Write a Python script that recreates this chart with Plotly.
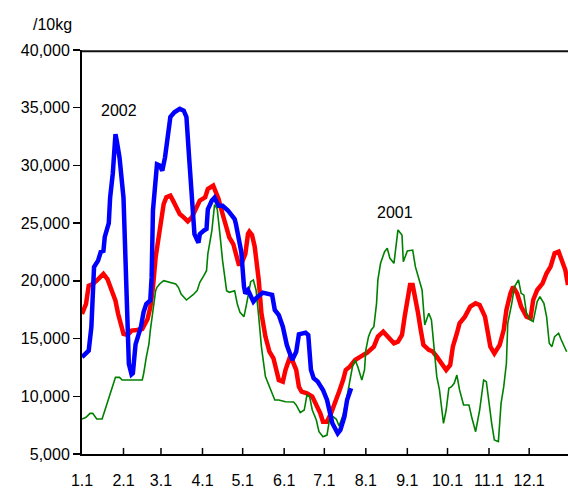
import plotly.graph_objects as go

# x = day of year (0 = Jan 1)
month_ticks = [0, 31, 59, 90, 120, 151, 181, 212, 243, 273, 304, 334]
month_labels = ["1.1", "2.1", "3.1", "4.1", "5.1", "6.1", "7.1", "8.1", "9.1", "10.1", "11.1", "12.1"]
y_ticks = [5000, 10000, 15000, 20000, 25000, 30000, 35000, 40000]

days_2002 = [0, 5, 7, 9, 12, 14, 16, 17, 20, 21, 23, 25, 26, 28, 31, 33, 35, 37, 38, 40, 42, 44, 46, 48,
             51, 52, 53, 56, 58, 60, 62, 64, 66, 69, 73, 76, 78, 80, 82, 84, 87, 88, 91, 93, 94, 97, 99,
             102, 105, 109, 112, 114, 115, 117, 119, 121, 122, 124, 128, 130, 133, 135, 142, 144, 147,
             150, 153, 157, 160, 162, 167, 169, 171, 173, 176, 180, 183, 185, 187, 191, 193, 196, 198, 201]
vals_2002 = [13400, 13950, 16000, 21200, 21750, 22500, 22600, 23800, 25000, 27200, 29300, 32700, 32100,
             30700, 27200, 20600, 12800, 11900, 12000, 14500, 15400, 16000, 17300, 18000, 18300, 20300,
             26100, 30100, 30000, 29550, 30700, 32150, 34200, 34600, 34900, 34750, 34200, 30700, 27500,
             24050, 23300, 24050, 24350, 24500, 26200, 26950, 27200, 26500, 26500, 26100, 25650, 25350,
             24900, 23800, 22500, 19500, 18900, 19200, 18200, 18490, 18860, 18980, 18780, 17480, 17040,
             16030, 14440, 13140, 13860, 15370, 15510, 15300, 12300, 11560, 11270, 10550, 9680, 8810,
             7660, 6790, 7080, 8230, 9680, 10690]

days_avg = [0, 3, 5, 8, 11, 14, 16, 19, 21, 23, 25, 27, 29, 31, 34, 37, 41, 45, 47, 49, 51, 53, 55, 57,
            59, 61, 63, 66, 68, 71, 73, 76, 79, 82, 86, 88, 92, 94, 98, 99, 102, 105, 108, 110, 113, 115,
            117, 119, 122, 124, 125, 127, 129, 132, 134, 137, 140, 143, 145, 147, 150, 152, 155, 157, 160,
            162, 164, 168, 172, 175, 178, 180, 183, 186, 189, 192, 195, 197, 200, 204, 208, 213, 218, 221,
            225, 229, 233, 236, 239, 241, 243, 245, 247, 249, 251, 253, 255, 259, 262, 265, 269, 272, 275,
            277, 280, 282, 286, 290, 294, 297, 301, 303, 305, 308, 312, 315, 317, 320, 322, 325, 328, 332,
            335, 337, 340, 344, 347, 350, 353, 356, 358, 361, 363]
vals_avg = [17130, 18000, 19580, 19730, 20020, 20450, 20600, 20160, 19440, 19000, 18280, 17130, 16260,
            15400, 15310, 15690, 15740, 15830, 16260, 16700, 17710, 19440, 22040, 23770, 24930, 26660,
            27240, 27380, 26950, 26230, 25790, 25500, 25160, 25500, 26520, 26950, 27240, 27960, 28250,
            27960, 27090, 25790, 24490, 23770, 23190, 22180, 21460, 21460, 22330, 24070, 24260, 23970,
            22960, 20080, 17200, 15170, 13860, 13290, 12280, 11410, 11270, 12280, 13290, 13140, 12280,
            10830, 10400, 10260, 9970, 9250, 8530, 7800, 7800, 8530, 9390, 10400, 11410, 12280, 12560,
            13140, 13430, 13780, 14300, 15170, 15600, 15020, 14590, 14730, 15310, 16900, 18630, 19640,
            19640, 18630, 17200, 15750, 14450, 14020, 13880, 13430, 12860, 12280, 12710, 14300, 15460,
            16320, 16900, 17760, 18050, 17910, 16900, 15460, 14300, 13720, 14450, 15750, 17480, 18920,
            19490, 18920, 17760, 16900, 16750, 18340, 19210, 19790, 20660, 21230, 22390, 22530, 21950,
            20940, 19640]

days_2001 = [0, 3, 6, 8, 11, 15, 17, 20, 22, 25, 28, 30, 45, 46, 48, 50, 51, 53, 55, 56, 58, 61, 65, 70,
             72, 74, 78, 81, 83, 86, 88, 91, 93, 94, 97, 99, 101, 103, 105, 108, 110, 114, 116, 118, 121,
             123, 126, 128, 130, 132, 134, 137, 139, 142, 144, 147, 152, 158, 160, 163, 166, 168, 170, 172,
             175, 177, 180, 183, 185, 187, 190, 192, 195, 197, 200, 202, 204, 206, 209, 211, 212, 214, 216,
             218, 220, 221, 223, 226, 228, 230, 233, 235, 236, 239, 240, 243, 247, 249, 251, 254, 256, 259,
             261, 263, 265, 267, 270, 272, 274, 276, 278, 280, 282, 285, 289, 291, 294, 297, 300, 302, 304,
             306, 308, 311, 313, 315, 317, 318, 321, 323, 326, 328, 330, 332, 335, 337, 340, 342, 345, 347,
             349, 351, 353, 356, 358, 362]
vals_2001 = [8030, 8180, 8520, 8520, 8030, 8030, 8750, 9770, 10630, 11640, 11640, 11410, 11410, 11930,
             13380, 14530, 15690, 17420, 19150, 19440, 19730, 20020, 19870, 19730, 19440, 18860, 18340,
             18570, 18800, 19150, 19870, 20450, 20880, 22330, 24350, 26600, 26230, 24070, 21750, 19150,
             19010, 19150, 18000, 17270, 16900, 18050, 19930, 20080, 19210, 16900, 14300, 11700, 11120,
             10400, 9680, 9680, 9530, 9500, 9250, 8580, 8810, 10110, 9970, 8810, 7950, 6930, 6500, 6640,
             8090, 8290, 8010, 7430, 8380, 9390, 11120, 12560, 13140, 12560, 11410, 12280, 14010, 15170,
             15750, 16030, 18050, 20080, 21520, 22530, 22820, 21950, 21520, 23540, 24410, 23970, 21660,
             22600, 22670, 21230, 20360, 19210, 16180, 17200, 16610, 14010, 11700, 10550, 7660, 8810,
             10690, 10830, 11120, 11840, 10550, 9250, 9250, 8230, 6930, 8810, 11410, 11270, 9390, 7660,
             6210, 6070, 9390, 10830, 12860, 16320, 18050, 19490, 20080, 18920, 18780, 17200, 16610,
             16470, 18200, 18630, 18050, 16900, 14590, 14300, 15170, 15460, 14880, 13860]

FONT = "Liberation Sans, Arial, sans-serif"

fig = go.Figure()
fig.add_trace(go.Scatter(x=days_avg, y=vals_avg, mode="lines", name="avg",
                         line=dict(color="#ff0000", width=4.5), hoverinfo="skip"))
fig.add_trace(go.Scatter(x=days_2001, y=vals_2001, mode="lines", name="2001",
                         line=dict(color="#008000", width=1.6), hoverinfo="skip"))
fig.add_trace(go.Scatter(x=days_2002, y=vals_2002, mode="lines", name="2002",
                         line=dict(color="#0000ff", width=4.5), hoverinfo="skip"))

# inside tick marks on the x axis (labels pushed down by invisible outside ticks)
shapes = [dict(type="line", xref="x", yref="paper", x0=t, x1=t, y0=0, y1=0.015,
               line=dict(color="black", width=1.5), layer="above") for t in month_ticks[1:]]
# top border of the plot area
shapes.append(dict(type="line", xref="paper", yref="paper", x0=0, x1=1, y0=0.997, y1=0.997,
                   line=dict(color="#111111", width=2), layer="above"))

fig.update_layout(
    width=568, height=495,
    margin=dict(l=82, r=0, t=50, b=41),
    paper_bgcolor="white", plot_bgcolor="white",
    showlegend=False,
    font=dict(family=FONT, size=16, color="black"),
    xaxis=dict(range=[0, 363], tickvals=month_ticks, ticktext=month_labels,
               showgrid=False, zeroline=False, showline=True, linecolor="black", linewidth=2,
               ticks="outside", ticklen=11, tickwidth=1, tickcolor="rgba(0,0,0,0)",
               tickfont=dict(family=FONT, size=16)),
    yaxis=dict(range=[5000, 40000], tickvals=y_ticks, tickformat=",d", ticksuffix="\u00a0",
               showgrid=False, zeroline=False, showline=True, linecolor="black", linewidth=2,
               ticks="outside", ticklen=7, tickwidth=1.5, tickcolor="black",
               tickfont=dict(family=FONT, size=16)),
    shapes=shapes,
    annotations=[
        dict(text="/10kg", xref="paper", yref="paper", x=-0.0597, y=1.062,
             xanchor="center", yanchor="middle", showarrow=False, font=dict(family=FONT, size=16)),
        dict(text="2002", xref="x", yref="y", x=28, y=34800,
             xanchor="center", yanchor="middle", showarrow=False, font=dict(family=FONT, size=16)),
        dict(text="2001", xref="x", yref="y", x=234, y=25880,
             xanchor="center", yanchor="middle", showarrow=False, font=dict(family=FONT, size=16)),
    ],
)

fig.write_html("out.html", config={"displayModeBar": False, "staticPlot": True},
               post_script="document.body.style.margin='0';document.body.style.padding='0';")
